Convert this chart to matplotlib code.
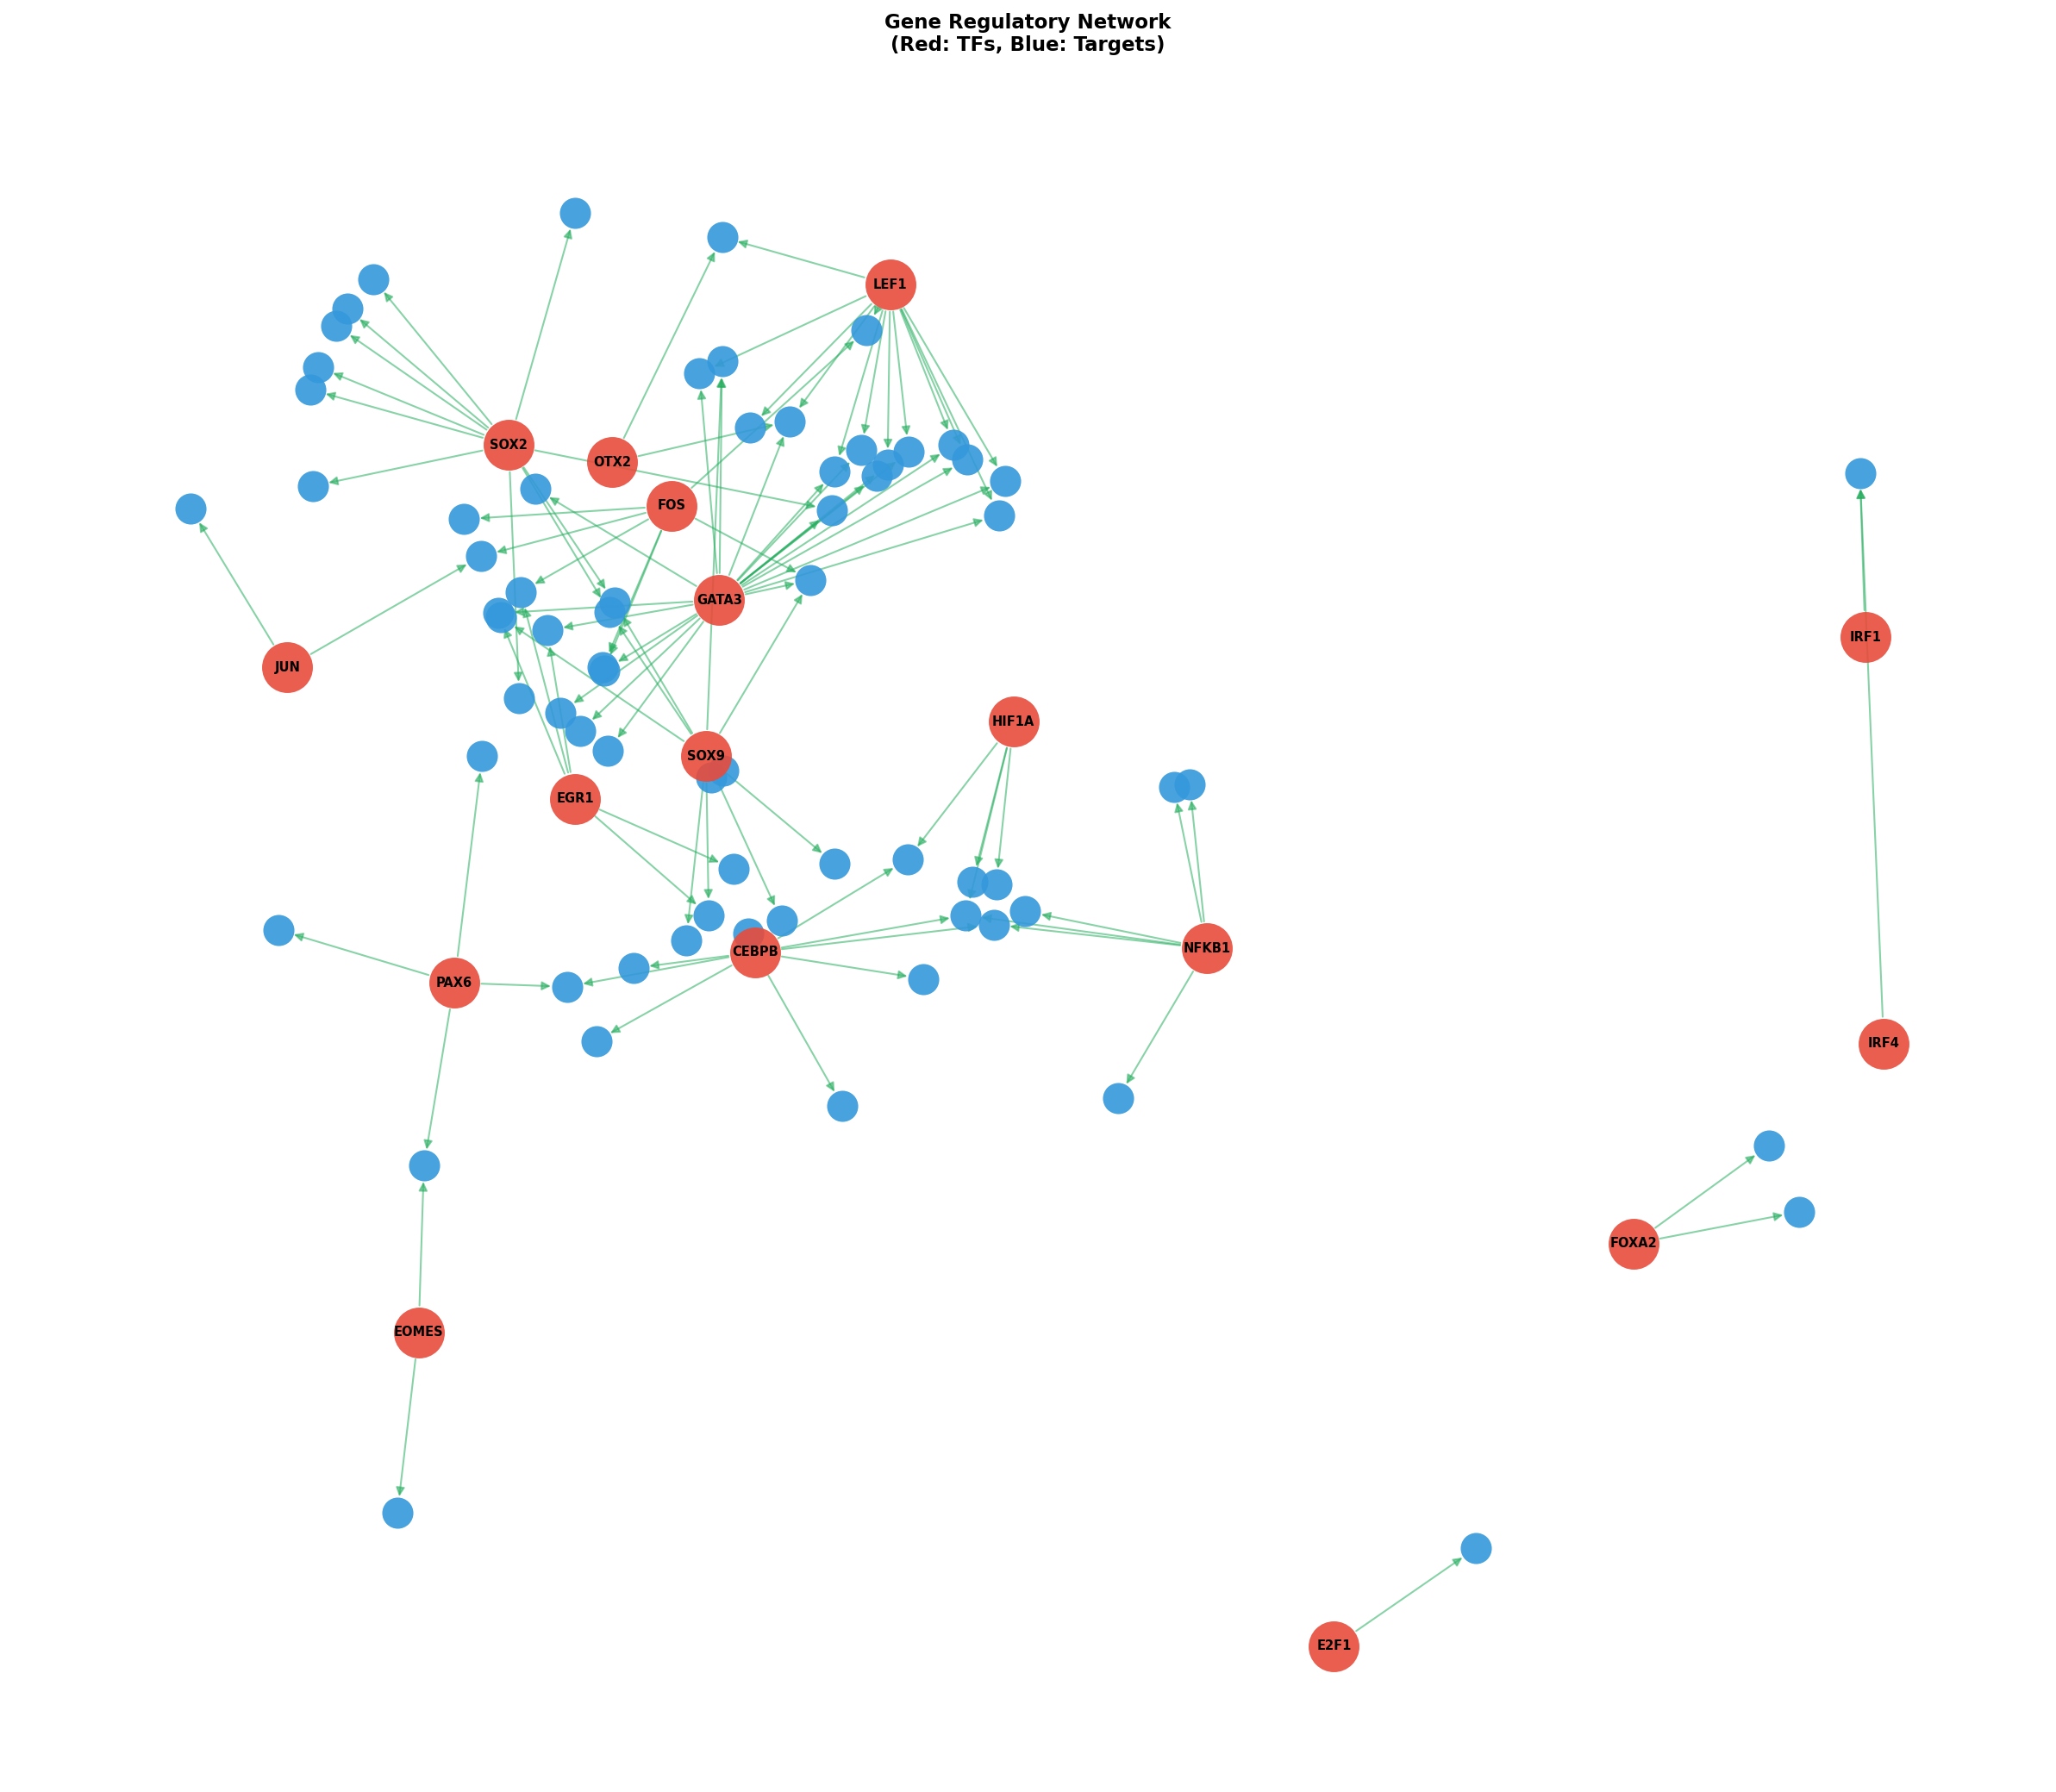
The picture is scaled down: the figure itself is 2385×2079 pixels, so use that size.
import matplotlib
matplotlib.use("Agg")
import matplotlib.pyplot as plt

tf_names = ["LEF1","SOX2","OTX2","FOS","GATA3","JUN","HIF1A","SOX9","EGR1","IRF1",
            "NFKB1","CEBPB","PAX6","IRF4","FOXA2","EOMES","E2F1"]
tf_x = [672,384,462,507,543,217,765,533,434,1408,911,570,343,1422,1233,316,1007]
tf_y = [215,336,349,382,453,504,545,571,603,481,716,719,742,788,939,1006,1243]

tg_x = [434,545,282,262,254,240,234,654,545,528,596,566,650,686,720,730,670,662,630,759,
        754,628,236,144,404,350,363,612,393,464,460,376,378,413,455,456,392,423,438,459,
        364,546,537,1404,886,898,630,685,554,734,752,535,590,729,750,774,518,565,210,478,
        428,697,450,844,636,1335,1358,320,300,1114]
tg_y = [161,179,211,233,246,277,294,249,273,282,318,323,340,341,336,347,351,359,356,363,
        389,385,367,384,369,392,420,438,447,455,462,463,466,476,504,506,527,538,552,567,
        571,582,587,357,594,592,652,649,656,666,668,691,695,691,698,688,710,705,702,731,
        745,739,786,829,835,865,915,880,1142,1169]

edges = {
    "LEF1": [1,7,9,11,10,12,13,14,15,16,19,20,18],
    "SOX2": [0,2,3,4,5,6,22,29,30,36,21],
    "OTX2": [1,10],
    "FOS": [25,26,27,35,28,7,34],
    "GATA3": [8,9,12,13,14,15,16,17,18,19,20,21,27,33,37,38,39,24,31,35,10],
    "JUN": [23,26],
    "HIF1A": [47,49,50,53],
    "SOX9": [8,27,29,32,51,56,52,46,30],
    "EGR1": [28,33,31,48,51],
    "IRF1": [43], "IRF4": [43],
    "NFKB1": [44,45,54,55,53,63],
    "CEBPB": [47,53,59,60,61,62,64,54],
    "PAX6": [40,58,60,67],
    "EOMES": [67,68],
    "FOXA2": [65,66], "E2F1": [69],
}

fig = plt.figure(figsize=(15.9, 13.86), dpi=150)
ax = fig.add_axes([0, 0, 1, 1])
ax.set_xlim(0, 1552); ax.set_ylim(1353, 0); ax.axis("off")

for tf, tgts in edges.items():
    i = tf_names.index(tf)
    for t in tgts:
        ax.annotate("", xy=(tg_x[t], tg_y[t]), xytext=(tf_x[i], tf_y[i]),
                    arrowprops=dict(arrowstyle="-|>", color="#27ae60", alpha=0.55, lw=1.0,
                                    mutation_scale=10, shrinkA=15, shrinkB=9), zorder=1)

ax.scatter(tg_x, tg_y, s=300, c="#3498db", alpha=0.9, zorder=2, linewidths=0)
ax.scatter(tf_x, tf_y, s=800, c="#e74c3c", alpha=0.9, zorder=3, linewidths=0)
for n, x, y in zip(tf_names, tf_x, tf_y):
    ax.text(x, y, n, ha="center", va="center", fontsize=7, fontweight="bold", zorder=4)

fig.text(0.5, 0.993, "Gene Regulatory Network\n(Red: TFs, Blue: Targets)", ha="center",
         va="top", fontsize=11, fontweight="bold")
fig.savefig("out.png", dpi=150)
